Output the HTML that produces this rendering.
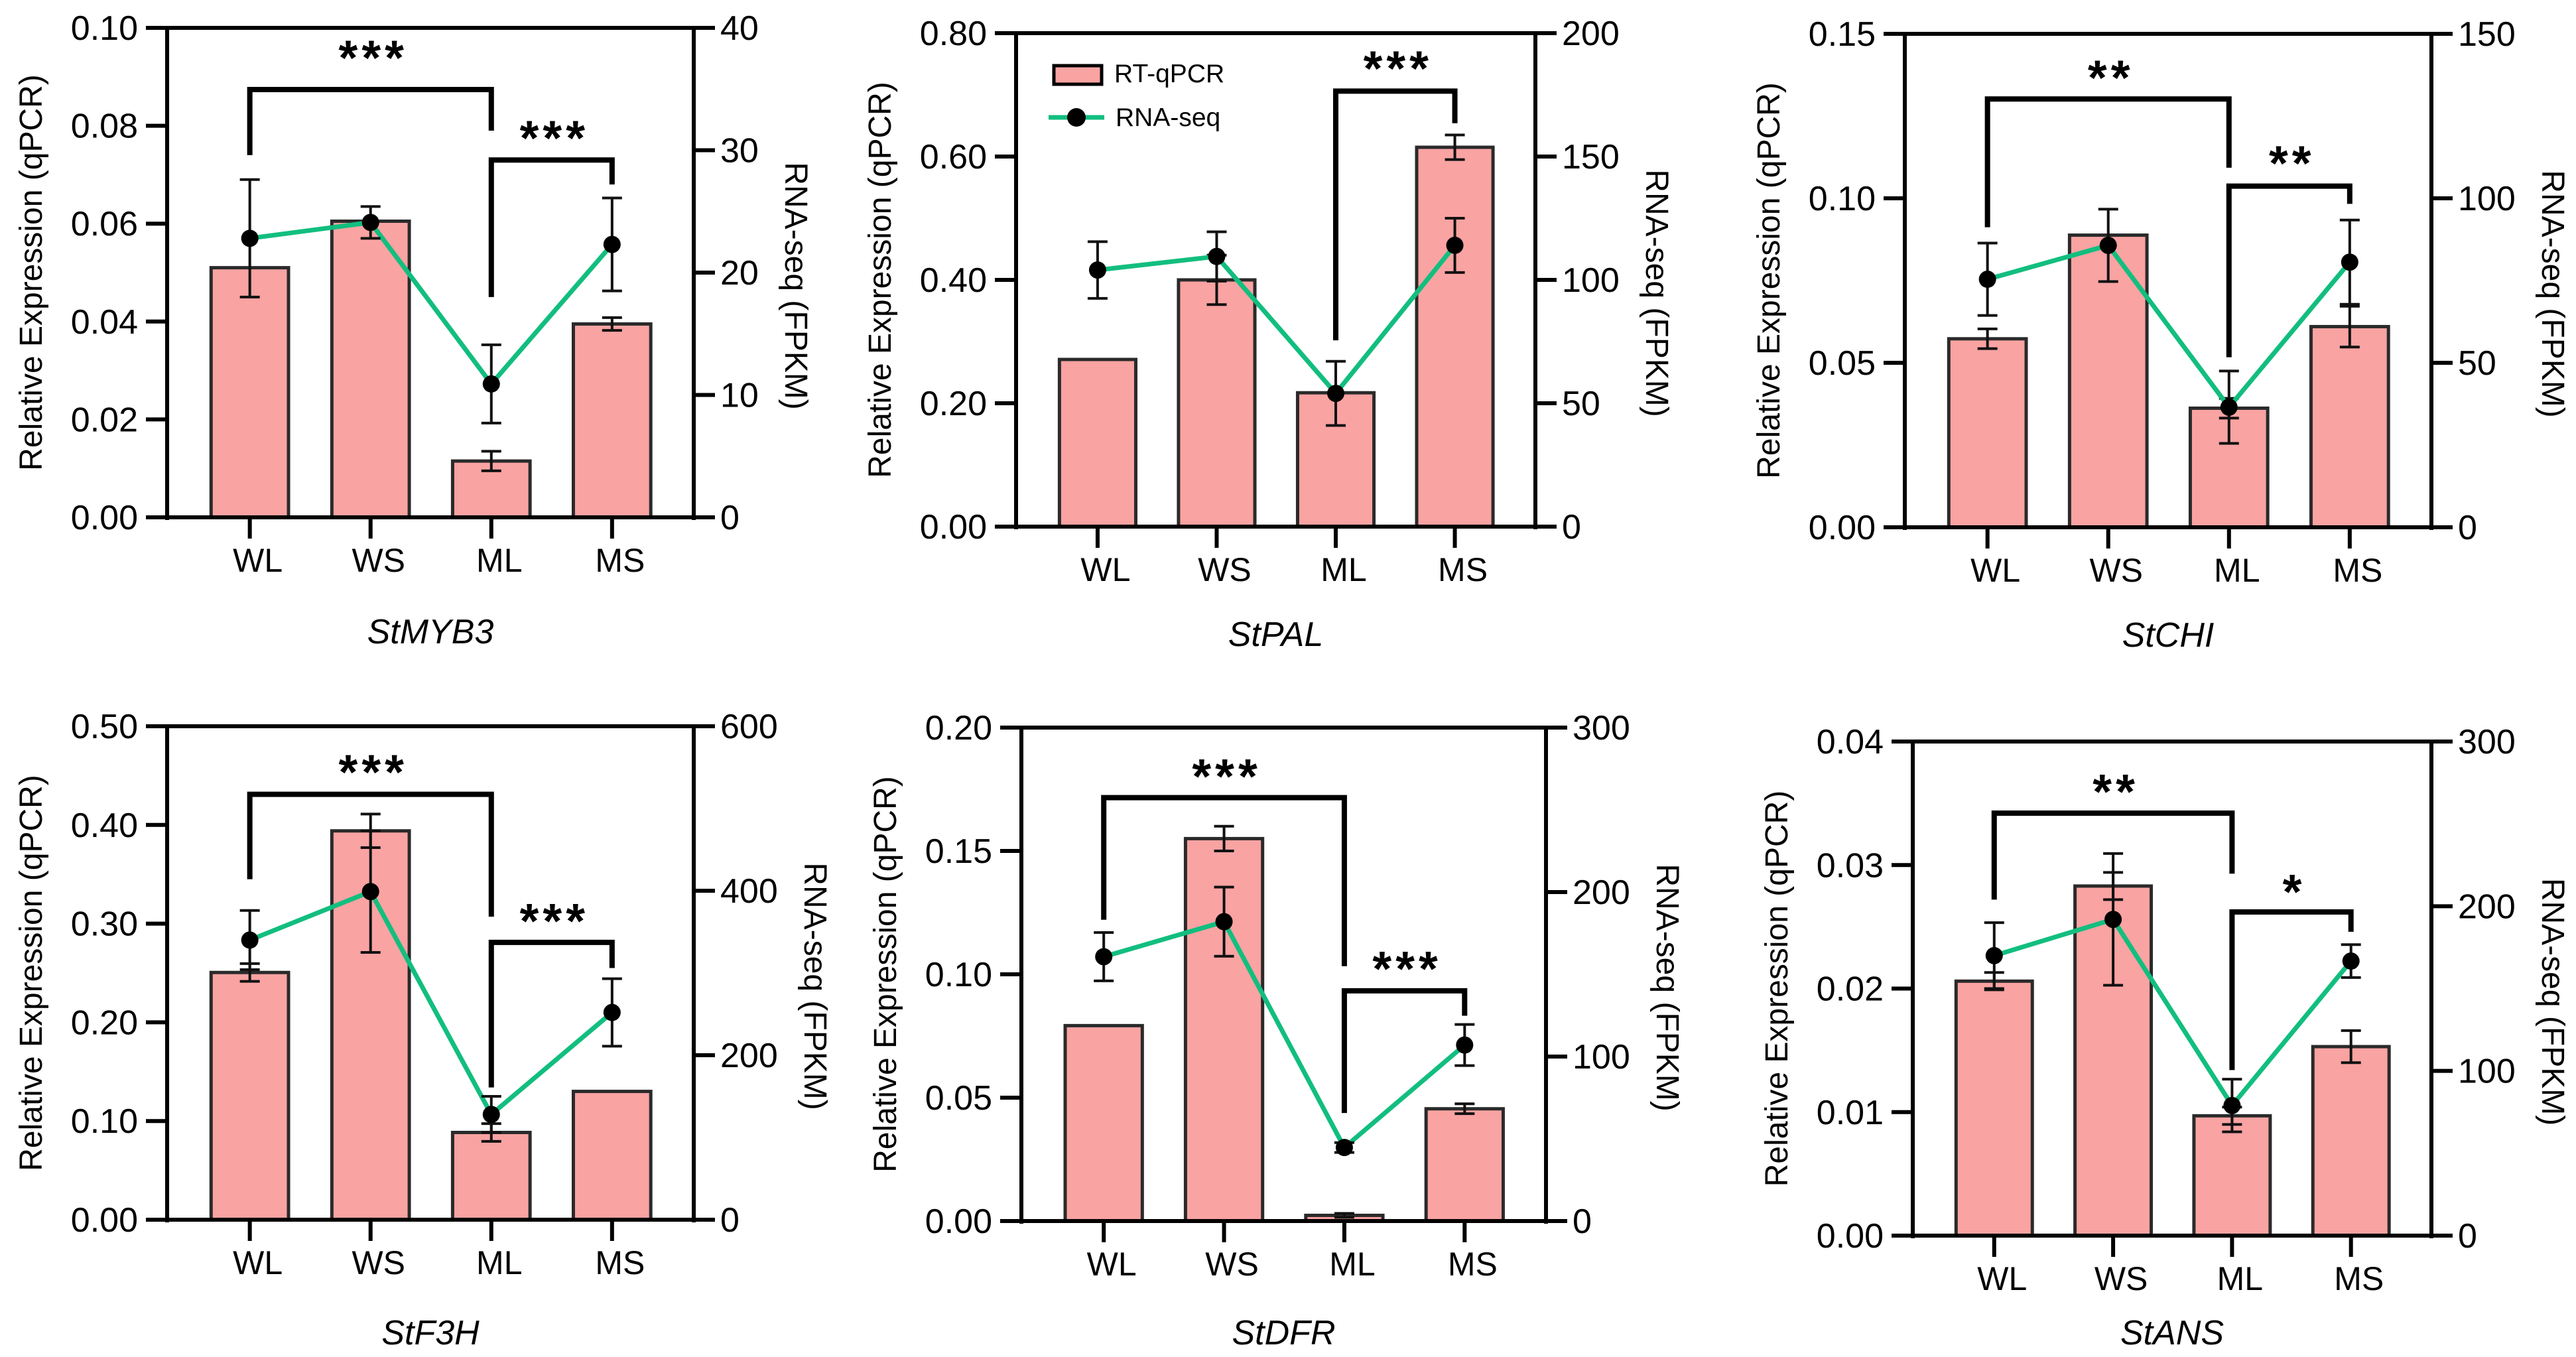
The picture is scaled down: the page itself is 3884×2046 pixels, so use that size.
<!DOCTYPE html>
<html><head><meta charset="utf-8"><style>
html,body{margin:0;padding:0;background:#fff;}
svg{display:block;font-family:"Liberation Sans",Arial,sans-serif;}
</style></head><body>
<svg id="fig" width="3884" height="2046" viewBox="0 0 3884 2046" xmlns="http://www.w3.org/2000/svg"></svg>
<script>
// ---- data ----
const categories = ["WL","WS","ML","MS"];
const geneNames = ["StMYB3","StPAL","StCHI","StF3H","StDFR","StANS"];

const myb3Qpcr = [0.051,0.0605,0.0115,0.0395];
const myb3QpcrErr = [0,0,0.002,0.0013];
const myb3Rna = [22.8,24.1,10.9,22.3];
const myb3RnaErr = [4.8,1.3,3.2,3.8];
const myb3LeftTicks = ["0.00","0.02","0.04","0.06","0.08","0.10"];
const myb3RightTicks = ["0","10","20","30","40"];

const palQpcr = [0.271,0.40,0.217,0.615];
const palQpcrErr = [0,0.04,0,0.02];
const palRna = [104,109.5,54,114];
const palRnaErr = [11.5,10,13,11];
const palLeftTicks = ["0.00","0.20","0.40","0.60","0.80"];
const palRightTicks = ["0","50","100","150","200"];

const chiQpcr = [0.0573,0.0888,0.0362,0.061];
const chiQpcrErr = [0.003,0,0.003,0.0062];
const chiRna = [75.4,85.7,36.5,80.6];
const chiRnaErr = [11,11,11,12.8];
const chiLeftTicks = ["0.00","0.05","0.10","0.15"];
const chiRightTicks = ["0","50","100","150"];

const f3hQpcr = [0.2505,0.394,0.0884,0.130];
const f3hQpcrErr = [0.009,0.017,0.009,0];
const f3hRna = [340,399,128,252];
const f3hRnaErr = [36,74,22,41];
const f3hLeftTicks = ["0.00","0.10","0.20","0.30","0.40","0.50"];
const f3hRightTicks = ["0","200","400","600"];

const dfrQpcr = [0.0792,0.155,0.0023,0.0455];
const dfrQpcrErr = [0,0.005,0.0008,0.002];
const dfrRna = [160.7,182,44.7,107];
const dfrRnaErr = [14.7,21,3,12.5];
const dfrLeftTicks = ["0.00","0.05","0.10","0.15","0.20"];
const dfrRightTicks = ["0","100","200","300"];

const ansQpcr = [0.0206,0.0283,0.0097,0.0153];
const ansQpcrErr = [0.0007,0.0011,0.0007,0.0013];
const ansRna = [170,192,79,166.7];
const ansRnaErr = [20,40,16,10];
const ansLeftTicks = ["0.00","0.01","0.02","0.03","0.04"];
const ansRightTicks = ["0","100","200","300"];

// brackets: [fromIdx, toIdx, topValue, leftLegEnd, rightLegEnd, starsValue, label] (left-axis units)
const myb3Brackets = [[0,2,0.0874,0.074,0.079,0.0948,"***"],[2,3,0.073,0.045,0.068,0.0784,"***"]];
const palBrackets = [[2,3,0.706,0.302,0.654,0.750,"***"]];
const chiBrackets = [[0,2,0.1302,0.0912,0.1093,0.138,"**"],[2,3,0.1037,0.0517,0.0983,0.112,"**"]];
const f3hBrackets = [[0,2,0.431,0.345,0.307,0.458,"***"],[2,3,0.281,0.134,0.255,0.307,"***"]];
const dfrBrackets = [[0,2,0.1716,0.1221,0.1033,0.182,"***"],[2,3,0.0933,0.0438,0.0832,0.104,"***"]];
const ansBrackets = [[0,2,0.0342,0.0272,0.0293,0.0363,"**"],[2,3,0.0262,0.0134,0.0246,0.0282,"*"]];

// ---- layout ----
const layouts = [
 {L:252,R:1046,T:42,B:780,tOff:190},
 {L:1532,R:2315,T:50,B:794,tOff:180},
 {L:2872,R:3666,T:51,B:795,tOff:180},
 {L:252,R:1046,T:1095,B:1839,tOff:188},
 {L:1540,R:2331,T:1097,B:1841,tOff:186},
 {L:2884,R:3666,T:1118,B:1863,tOff:164}
];
const panels = [
 {q:myb3Qpcr,qe:myb3QpcrErr,r:myb3Rna,re:myb3RnaErr,lt:myb3LeftTicks,rt:myb3RightTicks,br:myb3Brackets},
 {q:palQpcr,qe:palQpcrErr,r:palRna,re:palRnaErr,lt:palLeftTicks,rt:palRightTicks,br:palBrackets},
 {q:chiQpcr,qe:chiQpcrErr,r:chiRna,re:chiRnaErr,lt:chiLeftTicks,rt:chiRightTicks,br:chiBrackets},
 {q:f3hQpcr,qe:f3hQpcrErr,r:f3hRna,re:f3hRnaErr,lt:f3hLeftTicks,rt:f3hRightTicks,br:f3hBrackets},
 {q:dfrQpcr,qe:dfrQpcrErr,r:dfrRna,re:dfrRnaErr,lt:dfrLeftTicks,rt:dfrRightTicks,br:dfrBrackets},
 {q:ansQpcr,qe:ansQpcrErr,r:ansRna,re:ansRnaErr,lt:ansLeftTicks,rt:ansRightTicks,br:ansBrackets}
];

const NS="http://www.w3.org/2000/svg";
const svg=document.getElementById('fig');
function mk(tag,attrs,parent){const e=document.createElementNS(NS,tag);for(const k in attrs)e.setAttribute(k,attrs[k]);parent.appendChild(e);return e;}
const GREEN="#12be7f", FILL="#f9a3a2";

panels.forEach((p,pi)=>{
  const g=layouts[pi];
  const grp=mk('g',{},svg);
  
  
  const lMax=parseFloat(p.lt[p.lt.length-1]), rMax=parseFloat(p.rt[p.rt.length-1]);
  const yL=v=>g.B-(v/lMax)*(g.B-g.T);
  const yR=v=>g.B-(v/rMax)*(g.B-g.T);
  const W=g.R-g.L;
  const xC=i=>g.L+W*(0.157+i*0.2293);
  const bw=W*0.147;
  p.q.forEach((v,i)=>{
    const b=mk('rect',{x:xC(i)-bw/2,y:yL(v),width:bw,height:g.B-yL(v),fill:FILL,stroke:"#2a2a2a","stroke-width":5},grp);
    
    
    if(p.qe[i]>0){
      const e=mk('path',{d:`M${xC(i)},${yL(v+p.qe[i])}V${yL(v-p.qe[i])}M${xC(i)-15},${yL(v+p.qe[i])}h30M${xC(i)-15},${yL(v-p.qe[i])}h30`,stroke:"#111","stroke-width":4,fill:"none"},grp);
      
      
    }
  });
  const ax=mk('g',{stroke:"#000","stroke-width":6,fill:"none"},grp);
  
  
  mk('path',{d:`M${g.L-32},${g.B}H${g.R+32}M${g.L-32},${g.T}H${g.R+32}M${g.L},${g.T}V${g.B+4}M${g.R},${g.T}V${g.B+4}`},ax);
  let maxLW=0, maxRW=0;
  p.lt.forEach((t,i)=>{
    const y=g.B-i/(p.lt.length-1)*(g.B-g.T);
    mk('path',{d:`M${g.L-32},${y}H${g.L}`},ax);
    const tx=mk('text',{x:g.L-44,y:y+18,"text-anchor":"end","font-size":52,fill:"#000",stroke:"none"},grp);
    tx.textContent=t;
    
    
    maxLW=Math.max(maxLW,tx.getComputedTextLength());
  });
  p.rt.forEach((t,i)=>{
    const y=g.B-i/(p.rt.length-1)*(g.B-g.T);
    mk('path',{d:`M${g.R},${y}H${g.R+32}`},ax);
    const tx=mk('text',{x:g.R+40,y:y+18,"text-anchor":"start","font-size":52,fill:"#000",stroke:"none"},grp);
    tx.textContent=t;
    
    
    maxRW=Math.max(maxRW,tx.getComputedTextLength());
  });
  categories.forEach((c,i)=>{
    mk('path',{d:`M${xC(i)},${g.B}V${g.B+32}`},ax);
    const tx=mk('text',{x:xC(i)+12,y:g.B+82,"text-anchor":"middle","font-size":50,fill:"#000",stroke:"none"},grp);
    tx.textContent=c;
    
    
  });
  const cy=(g.T+g.B)/2;
  const lt=mk('text',{x:0,y:0,transform:`translate(${g.L-44-maxLW-44},${cy}) rotate(-90)`,"text-anchor":"middle","font-size":48,fill:"#000"},grp);
  lt.textContent="Relative Expression (qPCR)";
  
  
  const rt=mk('text',{x:0,y:0,transform:`translate(${g.R+40+maxRW+40},${cy+20}) rotate(90)`,"text-anchor":"middle","font-size":48,fill:"#000"},grp);
  rt.textContent="RNA-seq (FPKM)";
  
  
  const ti=mk('text',{x:(g.L+g.R)/2,y:g.B+g.tOff,"text-anchor":"middle","font-size":52,"font-style":"italic",fill:"#000"},grp);
  ti.textContent=geneNames[pi];
  
  
  const pts=p.r.map((v,i)=>`${xC(i)},${yR(v)}`).join(' ');
  const ln=mk('polyline',{points:pts,fill:"none",stroke:GREEN,"stroke-width":7},grp);
  
  
  p.r.forEach((v,i)=>{
    const e=mk('path',{d:`M${xC(i)},${yR(v+p.re[i])}V${yR(v-p.re[i])}M${xC(i)-15},${yR(v+p.re[i])}h30M${xC(i)-15},${yR(v-p.re[i])}h30`,stroke:"#111","stroke-width":4,fill:"none"},grp);
    
    
    const d=mk('circle',{cx:xC(i),cy:yR(v),r:13,fill:"#000"},grp);
    
    
  });
  p.br.forEach(b=>{
    const x1=xC(b[0]), x2=xC(b[1]);
    const pa=mk('path',{d:`M${x1},${yL(b[3])}V${yL(b[2])}H${x2}V${yL(b[4])}`,fill:"none",stroke:"#000","stroke-width":8},grp);
    
    
    const st=mk('text',{x:(x1+x2)/2+4,y:yL(b[5])+32,"text-anchor":"middle","font-size":74,"font-weight":"bold","letter-spacing":6,fill:"#000"},grp);
    st.textContent=b[6];
    
    
  });
});
const lg=mk('g',{},svg);


const lr=mk('rect',{x:1589,y:99,width:72,height:28,fill:FILL,stroke:"#000","stroke-width":5},lg);


const lt1=mk('text',{x:1680,y:124,"font-size":39,fill:"#000"},lg);
lt1.textContent="RT-qPCR";


const ll=mk('path',{d:"M1581,177H1665",stroke:GREEN,"stroke-width":7},lg);


mk('circle',{cx:1623,cy:177,r:14,fill:"#000"},lg);
const lt2=mk('text',{x:1682,y:190,"font-size":39,fill:"#000"},lg);
lt2.textContent="RNA-seq";


</script>
</body></html>
